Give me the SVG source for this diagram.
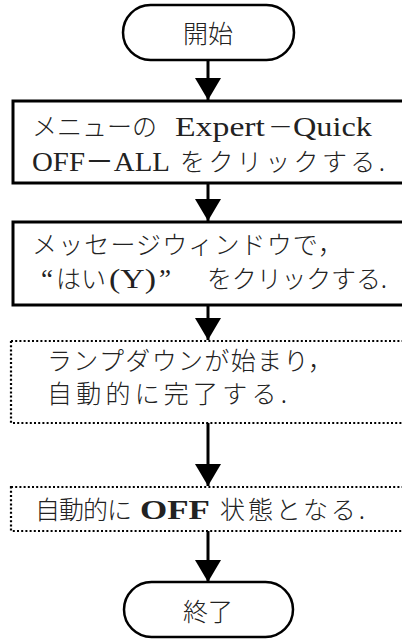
<svg xmlns="http://www.w3.org/2000/svg" width="402" height="639" viewBox="0 0 402 639">
<style>
.t{font-family:"Liberation Serif","Noto Sans CJK JP",serif;font-size:27px;fill:#222}
.j{font-family:"Noto Sans CJK JP","Liberation Serif",sans-serif;font-size:25px;font-weight:300;fill:#222}
.term{fill:#fff;stroke:#000;stroke-width:2.5}
.box{fill:#fff;stroke:#000;stroke-width:3}
.dbox{fill:#fff;stroke:#000;stroke-width:2.2;stroke-dasharray:2 2.2}
.conn{stroke:#000;stroke-width:3;fill:none}
</style>
<defs>
<marker id="ah" markerUnits="userSpaceOnUse" markerWidth="24" markerHeight="28" refX="22" refY="13" orient="auto" viewBox="0 0 24 28"><path d="M0,0 L22,13 L0,26 Z" fill="#000"/></marker>
</defs>
<g id="connectors">
<line class="conn" x1="208" y1="60" x2="208" y2="100" marker-end="url(#ah)"/>
<line class="conn" x1="208" y1="183" x2="208" y2="221" marker-end="url(#ah)"/>
<line class="conn" x1="208" y1="305" x2="208" y2="340" marker-end="url(#ah)"/>
<line class="conn" x1="208" y1="423" x2="208" y2="486" marker-end="url(#ah)"/>
<line class="conn" x1="208" y1="531" x2="208" y2="582" marker-end="url(#ah)"/>
</g>
<g id="start">
<rect class="term" x="123" y="5" width="171" height="55" rx="27.5"/>
<text class="j" x="208" y="43" text-anchor="middle" font-size="27">開始</text>
</g>
<g id="step1">
<rect class="box" x="13" y="101" width="400" height="82"/>
<text class="j" x="32" y="136" textLength="125" lengthAdjust="spacing">メニューの</text>
<text class="t" x="175" y="136" textLength="90" lengthAdjust="spacingAndGlyphs">Expert</text>
<text class="j" x="268" y="136" textLength="25" lengthAdjust="spacingAndGlyphs">－</text>
<text class="t" x="293" y="136" textLength="79" lengthAdjust="spacingAndGlyphs">Quick</text>
<text class="t" x="32" y="171" textLength="138" lengthAdjust="spacingAndGlyphs">OFF－ALL</text>
<text class="j" x="180" y="171" textLength="205" lengthAdjust="spacing">をクリックする.</text>
</g>
<g id="step2">
<rect class="box" x="13" y="222" width="400" height="83"/>
<text class="j" x="32" y="254" textLength="311" lengthAdjust="spacing">メッセージウィンドウで，</text>
<text class="t" x="41" y="288">“</text>
<text class="j" x="56" y="288" textLength="50" lengthAdjust="spacing">はい</text>
<text class="t" x="109" y="288" textLength="47" lengthAdjust="spacingAndGlyphs">(Y)</text>
<text class="t" x="159" y="288">”</text>
<text class="j" x="207" y="288" textLength="180" lengthAdjust="spacing">をクリックする.</text>
</g>
<g id="step3">
<rect class="dbox" x="11" y="341" width="402" height="82"/>
<text class="j" x="47" y="370" textLength="286" lengthAdjust="spacing">ランプダウンが始まり，</text>
<text class="j" x="47" y="403" textLength="240" lengthAdjust="spacing">自動的に完了する.</text>
</g>
<g id="step4">
<rect class="dbox" x="11" y="487" width="402" height="44"/>
<text class="j" x="35" y="519" textLength="97" lengthAdjust="spacing">自動的に</text>
<text class="t" x="140" y="519" textLength="70" lengthAdjust="spacingAndGlyphs" font-weight="bold">OFF</text>
<text class="j" x="220" y="519" textLength="145" lengthAdjust="spacing">状態となる.</text>
</g>
<g id="end">
<rect class="term" x="124" y="582" width="169" height="55" rx="27.5"/>
<text class="j" x="208" y="621" text-anchor="middle" font-size="27">終了</text>
</g>
</svg>
